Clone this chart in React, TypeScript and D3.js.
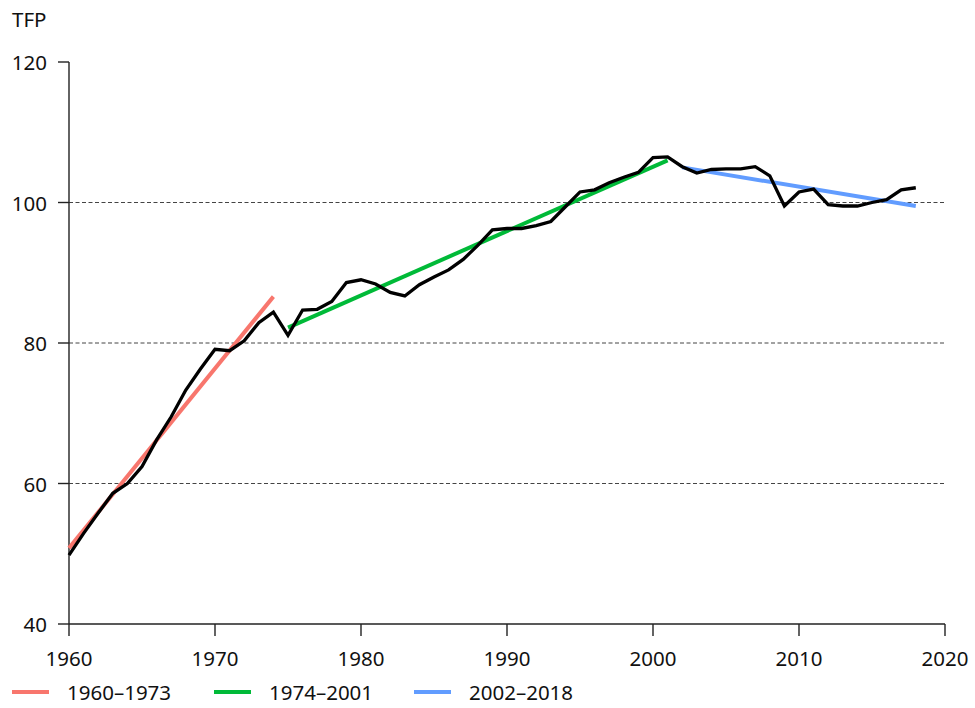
import React from "react";
import * as d3 from "d3";

const years = d3.range(1960, 2019);
const tfp = [
  49.8, 52.9, 55.8, 58.6, 60.0, 62.4, 66.2, 69.5, 73.3, 76.3,
  79.1, 78.9, 80.3, 82.9, 84.4, 81.1, 84.7, 84.8, 85.9, 88.6,
  89.0, 88.4, 87.2, 86.7, 88.3, 89.4, 90.4, 91.9, 93.9, 96.1,
  96.3, 96.3, 96.7, 97.3, 99.4, 101.5, 101.8, 102.8, 103.6, 104.3,
  106.4, 106.5, 105.1, 104.2, 104.7, 104.8, 104.8, 105.1, 103.8, 99.5,
  101.5, 101.9, 99.7, 99.5, 99.5, 100.0, 100.4, 101.8, 102.1,
];

const trendLabels = ["1960\u20131973", "1974\u20132001", "2002\u20132018"];
const trendColors = ["#F8766D", "#00BA38", "#619CFF"];
const trendStartYears = [1960, 1975, 2002];
const trendEndYears = [1974, 2001, 2018];
const trendStartValues = [50.8, 82.2, 105.0];
const trendEndValues = [86.6, 106.0, 99.5];

const xTicks = [1960, 1970, 1980, 1990, 2000, 2010, 2020];
const yTicks = [40, 60, 80, 100, 120];
const gridValues = [60, 80, 100];

const FONT = "'Noto Sans', 'Open Sans', sans-serif";
const FS = 20.5;

export default function App() {
  const width = 975;
  const height = 708;
  const x = d3.scaleLinear().domain([1960, 2020]).range([69, 945]);
  const y = d3.scaleLinear().domain([40, 120]).range([624, 62]);

  const line = d3
    .line<number>()
    .x((_, i) => x(years[i]))
    .y((d) => y(d));

  const legendX = [12, 214, 414];

  return (
    <svg
      width={width}
      height={height}
      style={{ position: "absolute", left: 0, top: 0, background: "#fff" }}
      fontFamily={FONT}
    >
      {gridValues.map((v) => (
        <line
          key={"g" + v}
          x1={x(1960)}
          x2={x(2020)}
          y1={y(v)}
          y2={y(v)}
          stroke="#444"
          strokeWidth={1}
          strokeDasharray="4,2.5"
        />
      ))}
      <line x1={x(1960)} x2={x(1960)} y1={y(120)} y2={y(40)} stroke="#222" strokeWidth={1.4} />
      <line x1={x(1960)} x2={x(2020)} y1={y(40)} y2={y(40)} stroke="#222" strokeWidth={1.4} />
      {yTicks.map((v) => (
        <g key={"y" + v}>
          <line x1={x(1960) - 11} x2={x(1960)} y1={y(v)} y2={y(v)} stroke="#222" strokeWidth={1.4} />
          <text
            x={x(1960) - 22}
            y={y(v)}
            textAnchor="end"
            dominantBaseline="central"
            fontSize={FS}
            fill="#111"
          >
            {v}
          </text>
        </g>
      ))}
      {xTicks.map((t) => (
        <g key={"x" + t}>
          <line x1={x(t)} x2={x(t)} y1={y(40)} y2={y(40) + 12} stroke="#222" strokeWidth={1.4} />
          <text
            x={x(t)}
            y={y(40) + 34}
            textAnchor="middle"
            dominantBaseline="central"
            fontSize={FS}
            fill="#111"
          >
            {t}
          </text>
        </g>
      ))}
      <text x={12} y={19} dominantBaseline="central" fontSize={FS} fill="#111">
        TFP
      </text>

      {trendLabels.map((lab, i) => (
        <line
          key={"t" + lab}
          x1={x(trendStartYears[i])}
          x2={x(trendEndYears[i])}
          y1={y(trendStartValues[i])}
          y2={y(trendEndValues[i])}
          stroke={trendColors[i]}
          strokeWidth={4}
        />
      ))}

      <path d={line(tfp) || ""} fill="none" stroke="#000" strokeWidth={3.3} strokeLinejoin="miter" />

      {trendLabels.map((lab, i) => (
        <g key={"l" + lab} transform={`translate(${legendX[i]}, 692)`}>
          <line x1={0} x2={37} y1={0} y2={0} stroke={trendColors[i]} strokeWidth={4} />
          <text x={55} y={0} dominantBaseline="central" fontSize={FS} fill="#111">
            {lab}
          </text>
        </g>
      ))}
    </svg>
  );
}
